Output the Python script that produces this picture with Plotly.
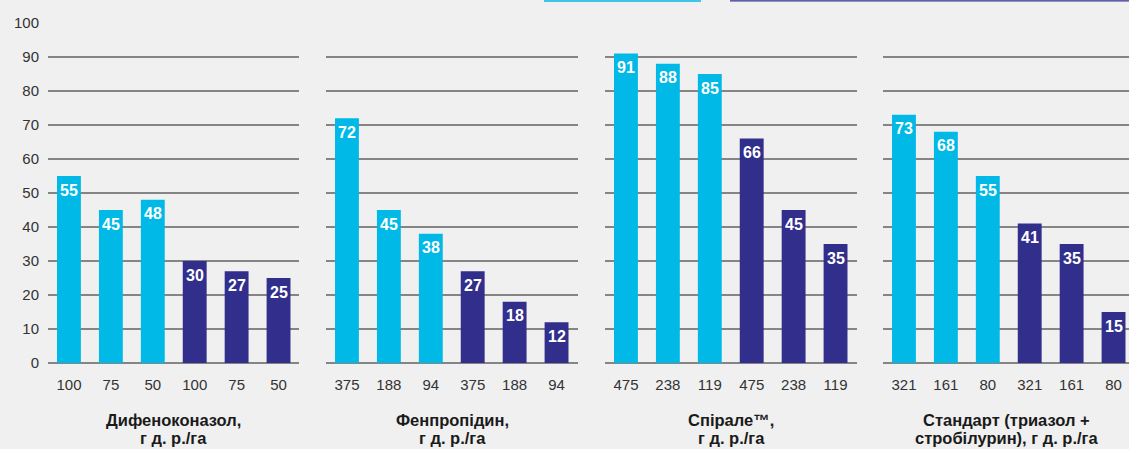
import plotly.graph_objects as go

# ---- data ----
rates1 = ["100", "75", "50", "100", "75", "50"]
values1 = [55, 45, 48, 30, 27, 25]
rates2 = ["375", "188", "94", "375", "188", "94"]
values2 = [72, 45, 38, 27, 18, 12]
rates3 = ["475", "238", "119", "475", "238", "119"]
values3 = [91, 88, 85, 66, 45, 35]
rates4 = ["321", "161", "80", "321", "161", "80"]
values4 = [73, 68, 55, 41, 35, 15]
titles_line1 = ["Дифеноконазол,", "Фенпропідин,", "Спірале™,", "Стандарт (триазол +"]
titles_line2 = ["г д. р./га", "г д. р./га", "г д. р./га", "стробілурин), г д. р./га"]
y_ticks = [0, 10, 20, 30, 40, 50, 60, 70, 80, 90, 100]

panels = [(rates1, values1), (rates2, values2), (rates3, values3), (rates4, values4)]

CYAN = "#00B9E7"
DARK = "#322F8C"
colors = [CYAN, CYAN, CYAN, DARK, DARK, DARK]
GRID = "#858585"
BG = "#f0f0f0"
FONT = "Liberation Sans, Arial, sans-serif"

W, H = 1129, 449
ML, MR, MT, MB = 48, 0, 22.7, 85.6
PW = W - ML - MR
PH = H - MT - MB
# panel pixel extents (left, right)
px = [(48, 299), (326, 578), (605, 857), (883, 1129)]
slot_px = 251.5 / 6

fig = go.Figure()
annotations = []
for k, (rates, vals) in enumerate(panels):
    n = "" if k == 0 else str(k + 1)
    xa = "x" + n
    ya = "y" + n
    xs = list(range(len(vals)))
    fig.add_trace(go.Bar(
        x=xs, y=vals, marker=dict(color=colors, line=dict(width=0)),
        width=0.57, xaxis=xa, yaxis=ya, showlegend=False, hoverinfo="skip",
    ))
    l, r = px[k]
    dom = [(l - ML) / PW, (r - ML) / PW]
    xr_hi = -0.5 + (r - l) / slot_px
    fig.layout["xaxis" + n] = dict(
        domain=dom, range=[-0.5, xr_hi], anchor=ya,
        tickvals=xs, ticktext=rates, showgrid=False, zeroline=False,
        showline=False, ticks="outside", ticklen=8, tickcolor="rgba(0,0,0,0)",
        tickfont=dict(family=FONT, size=15, color="#333333"),
        fixedrange=True,
    )
    fig.layout["yaxis" + n] = dict(
        domain=[0, 1], range=[0, 100], anchor=xa,
        tickvals=y_ticks, showticklabels=(k == 0),
        showgrid=True, gridcolor=GRID, gridwidth=1.6,
        zeroline=True, zerolinecolor=GRID, zerolinewidth=1.6,
        showline=False, ticks="outside" if k == 0 else "", ticklen=5,
        tickcolor="rgba(0,0,0,0)",
        tickfont=dict(family=FONT, size=15, color="#333333"),
        fixedrange=True,
    )
    for i, v in enumerate(vals):
        annotations.append(dict(
            x=i, y=v, xref=xa, yref=ya, text=str(v), showarrow=False,
            yanchor="middle", yshift=-14,
            font=dict(family=FONT, size=16, color="white", weight="bold"),
        ))
    cx = ((l + r) / 2 - ML) / PW
    annotations.append(dict(
        x=cx, y=-(421 - (H - MB)) / PH, xref="paper", yref="paper",
        text="<b>" + titles_line1[k] + "</b>", showarrow=False,
        xanchor="center", yanchor="middle",
        font=dict(family=FONT, size=16.5, color="#1a1a1a"),
    ))
    annotations.append(dict(
        x=cx, y=-(438.5 - (H - MB)) / PH, xref="paper", yref="paper",
        text="<b>" + titles_line2[k] + "</b>", showarrow=False,
        xanchor="center", yanchor="middle",
        font=dict(family=FONT, size=16.5, color="#1a1a1a"),
    ))

# cropped legend swatches at the very top edge
top = 1 + MT / PH
shapes = [
    dict(type="rect", xref="paper", yref="paper", x0=(544 - ML) / PW, x1=(701 - ML) / PW,
         y0=top - 1.5 / PH, y1=top, fillcolor=CYAN, line=dict(width=0)),
    dict(type="rect", xref="paper", yref="paper", x0=(730 - ML) / PW, x1=1,
         y0=top - 1.2 / PH, y1=top, fillcolor=DARK, line=dict(width=0)),
]

fig.update_layout(
    width=W, height=H,
    margin=dict(l=ML, r=MR, t=MT, b=MB, pad=0),
    paper_bgcolor=BG, plot_bgcolor=BG,
    annotations=annotations, shapes=shapes,
    showlegend=False, bargap=0.43,
    font=dict(family=FONT),
)
fig.write_html(
    "out.html",
    config={"displayModeBar": False},
    post_script="document.body.style.margin='0';document.body.style.background='#f0f0f0';",
)
